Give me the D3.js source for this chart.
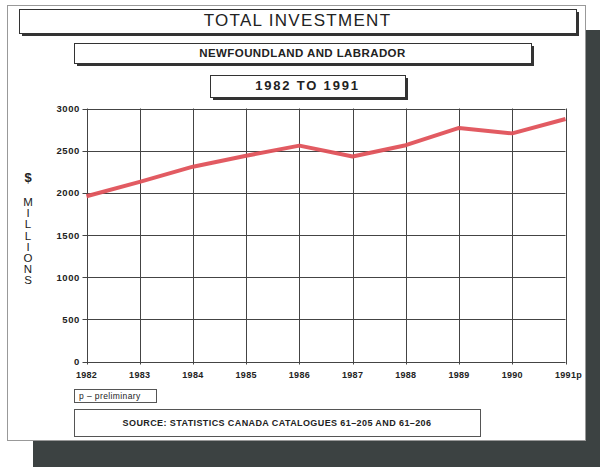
<!DOCTYPE html>
<html>
<head>
<meta charset="utf-8">
<script src="https://cdn.jsdelivr.net/npm/d3@7/dist/d3.min.js"></script>
<style>
  html, body { margin: 0; padding: 0; background: #fff; }
  svg { display: block; }
  text { font-family: "Liberation Sans", Arial, sans-serif; fill: #222; }
</style>
</head>
<body>
<svg id="chart" width="604" height="467"></svg>
<script>
// Total investment, Newfoundland and Labrador, $ millions
const years = [1982, 1983, 1984, 1985, 1986, 1987, 1988, 1989, 1990, 1991];
const yearLabels = ["1982", "1983", "1984", "1985", "1986", "1987", "1988", "1989", "1990", "1991p"];
const investment = [1960, 2130, 2310, 2440, 2560, 2430, 2565, 2770, 2705, 2875];
const yTicks = [0, 500, 1000, 1500, 2000, 2500, 3000];

const svg = d3.select("#chart");

// Drop shadow behind the page panel
svg.append("rect").attr("x", 33).attr("y", 30).attr("width", 567).attr("height", 437)
  .attr("fill", "#3c4242");
// Page panel
svg.append("rect").attr("x", 7.5).attr("y", 5.5).attr("width", 578).attr("height", 435)
  .attr("fill", "#fff").attr("stroke", "#999").attr("stroke-width", 1);

// Boxed heading with a heavy offset shadow
function headingBox(x, y, w, h, label, size, weight, spacing) {
  svg.append("rect").attr("x", x + 3).attr("y", y + 3).attr("width", w).attr("height", h)
    .attr("fill", "#333");
  svg.append("rect").attr("x", x + 0.5).attr("y", y + 0.5).attr("width", w).attr("height", h)
    .attr("fill", "#fff").attr("stroke", "#333").attr("stroke-width", 1);
  svg.append("text").attr("x", x + w / 2).attr("y", y + h / 2 + 1)
    .attr("text-anchor", "middle").attr("dominant-baseline", "middle")
    .attr("font-size", size).attr("font-weight", weight)
    .attr("letter-spacing", spacing)
    .text(label);
}
headingBox(19, 9, 557, 24, "TOTAL INVESTMENT", 17, "normal", 1.3);
headingBox(74, 43, 457, 20, "NEWFOUNDLAND AND LABRADOR", 11.5, "bold", 0.4);
headingBox(210, 75, 195, 22, "1982 TO 1991", 13, "bold", 1.8);

// Plot area
const x = d3.scaleLinear().domain([1982, 1991]).range([86.5, 565.5]);
const y = d3.scaleLinear().domain([0, 3000]).range([361.5, 108.5]);

const grid = svg.append("g").attr("stroke", "#444").attr("stroke-width", 1);
grid.selectAll("line.h").data(yTicks).join("line").attr("class", "h")
  .attr("x1", x(1982) - 4).attr("x2", x(1991))
  .attr("y1", d => Math.round(y(d)) + 0.5).attr("y2", d => Math.round(y(d)) + 0.5);
grid.selectAll("line.v").data(years).join("line").attr("class", "v")
  .attr("x1", d => Math.round(x(d)) + 0.5).attr("x2", d => Math.round(x(d)) + 0.5)
  .attr("y1", y(3000)).attr("y2", y(0) + 3);

// Axis labels
svg.append("g").selectAll("text").data(yTicks).join("text")
  .attr("x", 80).attr("y", d => y(d) + 3.5)
  .attr("text-anchor", "end").attr("font-size", 9.5).attr("font-weight", "bold")
  .attr("letter-spacing", 0.6).attr("fill", "#333").text(d => d);
svg.append("g").selectAll("text").data(years).join("text")
  .attr("x", (d, i) => x(d) + (i === years.length - 1 ? 3 : 0)).attr("y", 378)
  .attr("text-anchor", "middle").attr("font-size", 9).attr("font-weight", "bold")
  .attr("letter-spacing", 0.3).attr("fill", "#333").text((d, i) => yearLabels[i]);

// Vertical axis title
svg.append("text").attr("x", 28).attr("y", 182).attr("text-anchor", "middle")
  .attr("font-size", 13).attr("font-weight", "bold").text("$");
const unitLetters = "MILLIONS".split("");
svg.append("g").selectAll("text").data(unitLetters).join("text")
  .attr("x", 28).attr("y", (d, i) => 206 + i * 11.2)
  .attr("text-anchor", "middle").attr("font-size", 11.5).attr("fill", "#333")
  .text(d => d);

// Data line
const line = d3.line().x((d, i) => x(years[i])).y(d => y(d));
svg.append("path").datum(investment).attr("d", line)
  .attr("fill", "none").attr("stroke", "#e0525a").attr("stroke-width", 4)
  .attr("stroke-linejoin", "round").attr("stroke-opacity", 0.95);

// Footnote and source boxes
svg.append("rect").attr("x", 74.5).attr("y", 389.5).attr("width", 82).attr("height", 13)
  .attr("fill", "#fff").attr("stroke", "#555");
svg.append("text").attr("x", 79).attr("y", 399).attr("font-size", 8.5)
  .attr("letter-spacing", 0.4).attr("fill", "#333").text("p \u2013 preliminary");
svg.append("rect").attr("x", 74.5).attr("y", 409.5).attr("width", 406).attr("height", 27)
  .attr("fill", "#fff").attr("stroke", "#555");
svg.append("text").attr("x", 277).attr("y", 426).attr("text-anchor", "middle")
  .attr("font-size", 9).attr("font-weight", "bold").attr("letter-spacing", 0.4).attr("fill", "#333")
  .text("SOURCE: STATISTICS CANADA CATALOGUES 61\u2013205 AND 61\u2013206");
</script>
</body>
</html>
